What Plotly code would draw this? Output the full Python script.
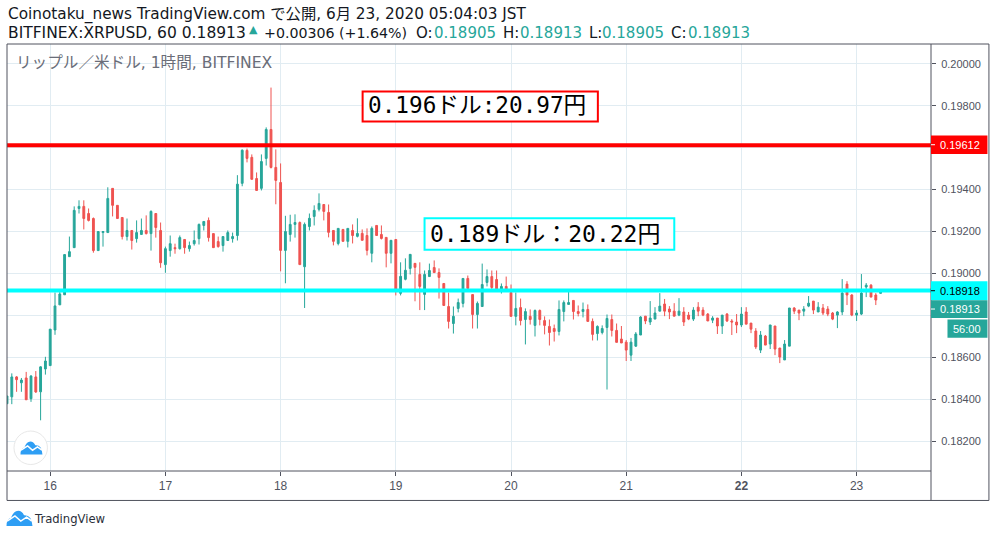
import pandas as pd
import plotly.graph_objects as go

UP = '#26a69a'
DOWN = '#ef5350'
AXIS = '#50535e'
GRID = '#e1ecf2'
LOGO = '#2e9ef4'
FONT = 'DejaVu Sans, Noto Sans CJK JP'
MONO = 'DejaVu Sans Mono, Noto Sans CJK JP'
TICK_FONT = 'Liberation Sans'

# hourly candles, first one is 15th 15:00 JST, one row per day
open_prices = [
    .18378, .18411, .18506, .18478, .18501, .18402, .18506, .18435, .18544,
    .1856, .1873, .1885, .18898, .1908, .19123, .1931, .1932, .19286, .19262, .19109, .19195,
    .19195, .19406, .19325, .19267, .19176, .19205, .19166, .19186, .19205, .1919, .19286, .19205,
    .19042, .19109, .19123, .19118, .19162, .19118, .19142, .19166, .19229, .19253, .1919, .19152,
    .19133, .19157, .19166, .19181, .1943, .19587, .19554, .19453, .19406, .19549, .19687, .19506,
    .19434, .1911, .19186, .19234, .19243, .19032, .19224, .19272, .19306, .19329, .19291, .19205,
    .19143, .1921, .19153, .19205, .19177, .19191, .19181, .19096, .19229, .19186, .19172, .19096,
    .19162, .18905, .18972, .19024, .19048, .18995, .189, .18985, .19028, .19004, .18952, .18842,
    .18761, .18833, .18857, .18976, .18899, .18804, .18842, .18957, .18985, .18971, .18919, .18938,
    .18909, .18795, .18837, .1878, .18795, .18752, .18823, .18775, .18747, .18737, .18723, .18818,
    .18852, .18871, .18818, .18818, .18828, .18771, .18713, .18718, .18742, .1878, .18728, .18687,
    .18672, .1861, .18653, .18706, .18796, .18768, .18782, .1882, .18854, .1883, .1882, .18801,
    .18816, .18801, .18782, .18839, .18825, .18806, .18777, .18787, .18749, .18806, .18773, .18768,
    .18754, .18816, .18763, .18725, .18634, .18701, .18663, .18749, .18644, .18587, .18653, .18835,
    .18825, .1882, .18844, .18868, .18816, .18835, .1883, .18811, .18801, .18816, .18949, .18897,
    .18801, .18806, .18935, .18944, .18897, .18905,
]
close_prices = [
    .18415, .18506, .18493, .18491, .18397, .1851, .18434, .18554, .18582,
    .18734, .18845, .18902, .1909, .19104, .19301, .1932, .19262, .19253, .19109, .192, .192,
    .19358, .19325, .19262, .19176, .19205, .19157, .19195, .19205, .1919, .19296, .19219, .19051,
    .19118, .19142, .19118, .19171, .19123, .19133, .19157, .19234, .19248, .19171, .19123, .19128,
    .19176, .19195, .19176, .19426, .19588, .19549, .19449, .19396, .19534, .19687, .19506, .19444,
    .1911, .192, .19234, .19243, .19042, .19234, .19263, .19301, .19334, .19296, .19196, .19153,
    .19215, .19153, .19215, .19181, .19191, .19158, .1911, .19215, .19181, .19167, .19096, .19158,
    .18924, .18986, .19015, .19091, .19029, .18938, .18995, .19014, .19004, .18981, .18847, .18771,
    .18795, .18861, .18976, .18928, .18804, .18857, .18947, .18985, .18933, .18914, .18938, .18919,
    .18795, .18833, .18775, .18818, .1878, .18823, .1878, .18752, .18718, .18723, .18828, .18861,
    .18861, .18818, .18809, .18828, .18771, .18709, .18747, .18737, .18785, .18728, .18671, .18668,
    .18634, .18672, .18711, .18792, .18773, .18787, .18811, .18844, .1882, .18816, .18796, .1882,
    .18768, .18782, .18825, .1882, .18801, .18773, .18787, .18749, .18801, .18773, .18768, .18754,
    .18806, .18758, .18734, .18649, .18706, .18658, .18754, .18639, .18601, .18663, .18835, .1882,
    .18811, .1883, .18858, .18825, .18839, .18811, .18806, .18782, .18816, .18906, .18897, .18801,
    .18811, .18906, .18944, .18887, .18873, .18913,
]
high_prices = [
    .18415, .18523, .1851, .18501, .1853, .18515, .18534, .18557, .18602,
    .18734, .18909, .18915, .1909, .19176, .1932, .19349, .19349, .1931, .19267, .192, .192,
    .19411, .19406, .19325, .19267, .19262, .19205, .19253, .19262, .19277, .19301, .19286, .19243,
    .19128, .19181, .19142, .19181, .19162, .19152, .19205, .19238, .19248, .19267, .1919, .19176,
    .19176, .19205, .19195, .19469, .19592, .19596, .19568, .19482, .19568, .19697, .19887, .19592,
    .19525, .19275, .1928, .19282, .19248, .19243, .19286, .19325, .19382, .19329, .19329, .19205,
    .19215, .1921, .19215, .19234, .19263, .1921, .19215, .19224, .19229, .19229, .19172, .19158,
    .19162, .19053, .19072, .19091, .19048, .19053, .19014, .19047, .19062, .19024, .18952, .18909,
    .18842, .1888, .18976, .1899, .18899, .18866, .19047, .19019, .19014, .19014, .18952, .18985,
    .18947, .18909, .1888, .18833, .18828, .18828, .18828, .18795, .1878, .18756, .18871, .18871,
    .18914, .18871, .18847, .18861, .18852, .18785, .18752, .18752, .18804, .18804, .18761, .18749,
    .18682, .18692, .1872, .18796, .18796, .18868, .18839, .18906, .18878, .18844, .18858, .18882,
    .18839, .18816, .18839, .18863, .18839, .18811, .18796, .18787, .18801, .18811, .18782, .18806,
    .18839, .18839, .18763, .18739, .18725, .18706, .18754, .18749, .18644, .18682, .18835, .18839,
    .18825, .18844, .18892, .18868, .18863, .18854, .18844, .18816, .1882, .18973, .18963, .18901,
    .18825, .18997, .18954, .18949, .18906, .18913,
]
low_prices = [
    .18378, .18376, .18435, .18435, .18397, .18387, .1843, .18299, .18517,
    .1856, .18707, .1885, .18898, .1908, .19123, .19286, .1921, .19248, .19099, .19109, .19128,
    .19195, .19272, .19262, .19162, .19157, .19114, .19147, .19186, .19186, .19109, .19171, .19027,
    .19003, .1908, .19094, .19114, .19094, .19104, .19133, .19138, .19205, .19152, .19123, .19123,
    .19104, .19157, .19147, .19157, .19416, .1953, .19449, .19396, .19396, .19515, .19501, .1933,
    .1901, .18953, .19152, .19171, .19042, .18835, .19205, .19229, .19296, .19253, .19172, .19134,
    .19134, .19153, .19124, .19143, .19172, .19158, .19086, .19053, .19181, .19162, .19029, .19048,
    .18895, .18895, .18967, .18995, .18867, .18825, .18825, .18985, .19004, .1888, .18847, .18737,
    .18713, .18814, .18838, .18928, .18737, .18737, .18842, .18938, .18914, .18914, .18904, .18919,
    .18795, .18752, .18752, .18661, .18756, .18699, .18752, .18709, .18656, .18675, .18704, .18771,
    .18852, .1878, .18795, .1879, .18771, .1868, .1868, .18709, .18446, .18699, .18671, .18668,
    .18582, .18582, .18649, .18706, .18758, .18754, .18782, .1882, .18796, .18782, .18796, .18796,
    .18749, .18777, .18773, .18796, .18796, .18773, .18763, .18711, .18711, .18768, .18706, .18715,
    .18744, .18758, .18715, .18639, .1862, .18658, .18639, .1861, .18572, .18587, .18653, .18806,
    .18777, .18796, .18839, .18806, .18816, .18801, .18796, .18777, .18739, .18801, .18849, .18796,
    .18773, .18801, .18887, .18887, .18849, .18905,
]

day_ticks = ['2020-06-%d' % d for d in range(16, 24)]
day_labels = ['16', '17', '18', '19', '20', '21', '<b>22</b>', '23']
price_ticks = [0.182, 0.184, 0.186, 0.188, 0.190, 0.192, 0.194, 0.196, 0.198, 0.200]
# 0.18800 and 0.19600 sit behind the price tags in the original
price_labels = ['0.18200', '0.18400', '0.18600', '', '0.19000', '0.19200', '0.19400', '', '0.19800', '0.20000']
resistance = 0.19612
support = 0.18918
last_price = 0.18913

times = pd.date_range('2020-06-15 15:00', periods=len(close_prices), freq='h')

L, R, T, B = 6.5, 931.5, 43.5, 471.0


def px(x):
    return (x - L) / (R - L)


def py(y):
    return 1 - (y - T) / (B - T)


fig = go.Figure(go.Candlestick(x=times, open=open_prices, high=high_prices, low=low_prices, close=close_prices,
                               increasing=dict(line=dict(color=UP, width=1), fillcolor=UP),
                               decreasing=dict(line=dict(color=DOWN, width=1), fillcolor=DOWN),
                               whiskerwidth=0, hoverinfo='skip', showlegend=False))

fig.add_hline(y=resistance, line=dict(color='#ff0000', width=4))
fig.add_hline(y=support, line=dict(color='#00ffff', width=4))


def frame(x0, y0, x1, y1, color=AXIS, width=1):
    fig.add_shape(type='line', xref='paper', yref='paper', x0=px(x0), y0=py(y0), x1=px(x1), y1=py(y1),
                  line=dict(color=color, width=width))


def box(x0, y0, x1, y1, color, line=None, width=0):
    fig.add_shape(type='rect', xref='paper', yref='paper', x0=px(x0), y0=py(y0), x1=px(x1), y1=py(y1),
                  fillcolor=color, line=dict(color=line, width=width))


# outer box around chart and time scale
frame(L, T, 989.5, T)
frame(989.5, T, 989.5, 500.5)
frame(L, 500.5, 989.5, 500.5)
frame(L, T, L, 500.5)
frame(R, T, R, 500.5)
frame(L, B, R, B)


def note(x, y, text, size, color='#131722', anchor='left', family=FONT):
    fig.add_annotation(xref='paper', yref='paper', x=px(x), y=py(y), text=text, showarrow=False,
                       xanchor=anchor, yanchor='middle', font=dict(family=family, size=size, color=color),
                       borderpad=0)


note(6, 14, 'Coinotaku_news TradingView.com で公開, 6月 23, 2020 05:04:03 JST', 15.3)
note(6, 32, 'BITFINEX:XRPUSD, 60 0.18913', 15.5)
note(248, 29, '▲', 11, color=UP)
note(263, 32, '+0.00306 (+1.64%)', 14.2)
for x, name, value_x, value in [(415, 'O:', 433, '0.18905'), (502, 'H:', 519, '0.18913'),
                                (588, 'L:', 601, '0.18905'), (670, 'C:', 687, '0.18913')]:
    note(x, 32, name, 15)
    note(value_x, 32, value, 15, color=UP)
note(15, 63, 'リップル／米ドル, 1時間, BITFINEX', 15.6, color='#6a6d78')
note(33, 519, 'TradingView', 11.6, color='#2a2e39')

# text boxes drawn on the chart
box(362.5, 91, 598, 121, '#ffffff', '#ff0000', 2)
note(367, 105, '0.196ドル:20.97円', 22.7, color='#000000', family=MONO)
box(424.5, 218, 674.5, 249.5, '#ffffff', '#00ffff', 2)
note(429, 233.5, '0.189ドル：20.22円', 23, color='#000000', family=MONO)

# price tags on the scale, TradingView pushes overlapping ones apart
for y0, y1, text, color, txt_color in [(135, 153.7, '0.19612', '#ff0000', '#ffffff'),
                                       (281, 300, '0.18918', '#00ffff', '#000000'),
                                       (300, 317.7, '0.18913', UP, '#ffffff')]:
    box(R, y0, 988, y1, color)
    frame(R, (y0 + y1) / 2, R + 4, (y0 + y1) / 2, color=txt_color)
    note(940, (y0 + y1) / 2, text, 11, color=txt_color, family=TICK_FONT)
box(948, 319.3, 988, 337.7, UP)
note(968, 328.5, '56:00', 11, color='#ffffff', anchor='center', family=TICK_FONT)


def cloud(cx, cy, s, line_color):
    # logo cloud, s is half width in pixels
    def p(a, b):
        return '%f %f' % (px(cx + a * s), py(cy + b * s))

    body = ('M ' + p(-1, 0.58) + ' Q ' + p(-1, 0.05) + ' ' + p(-0.65, -0.05) + ' Q ' + p(-0.45, -0.6) + ' ' + p(-0.1, -0.6)
            + ' Q ' + p(0.2, -0.6) + ' ' + p(0.35, -0.25) + ' Q ' + p(0.95, -0.3) + ' ' + p(1, 0.58) + ' Z')
    fig.add_shape(type='path', xref='paper', yref='paper', path=body, fillcolor=LOGO, line=dict(width=0))
    zig = 'M ' + p(-0.95, 0.2) + ' L ' + p(-0.35, -0.2) + ' L ' + p(0.1, 0.2) + ' L ' + p(0.55, -0.1) + ' L ' + p(0.95, 0.2)
    fig.add_shape(type='path', xref='paper', yref='paper', path=zig, line=dict(color=line_color, width=1.5))


fig.add_shape(type='circle', xref='paper', yref='paper', x0=px(13.5), y0=py(431), x1=px(47), y1=py(464.5),
              fillcolor='#ffffff', line=dict(color='#e8e8e8', width=1))
cloud(31, 448, 11, '#ffffff')
cloud(19, 518.5, 13, '#ffffff')

fig.update_layout(width=996, height=537, autosize=False, margin=dict(l=L, r=996 - R, t=T, b=537 - B),
                  paper_bgcolor='#ffffff', plot_bgcolor='#ffffff', boxgap=0.45, showlegend=False,
                  font=dict(family=TICK_FONT, size=11, color=AXIS))
fig.update_xaxes(type='date', range=['2020-06-15 15:00', '2020-06-23 15:30'], rangeslider=dict(visible=False),
                 tickvals=day_ticks, ticktext=day_labels, ticks='outside', ticklen=4, tickcolor=AXIS,
                 showgrid=True, gridcolor=GRID, gridwidth=1, zeroline=False, showline=False,
                 tickfont=dict(size=12, color=AXIS))
fig.update_yaxes(side='right', range=[0.18057, 0.20095], tickvals=price_ticks, ticktext=price_labels, ticks='outside',
                 ticklen=4, tickcolor=AXIS, showgrid=True, gridcolor=GRID, gridwidth=1, zeroline=False,
                 showline=False, ticklabelstandoff=3, tickfont=dict(size=11, color=AXIS))

fig.write_html('out.html', config=dict(displayModeBar=False), post_script='document.body.style.margin = 0;')
